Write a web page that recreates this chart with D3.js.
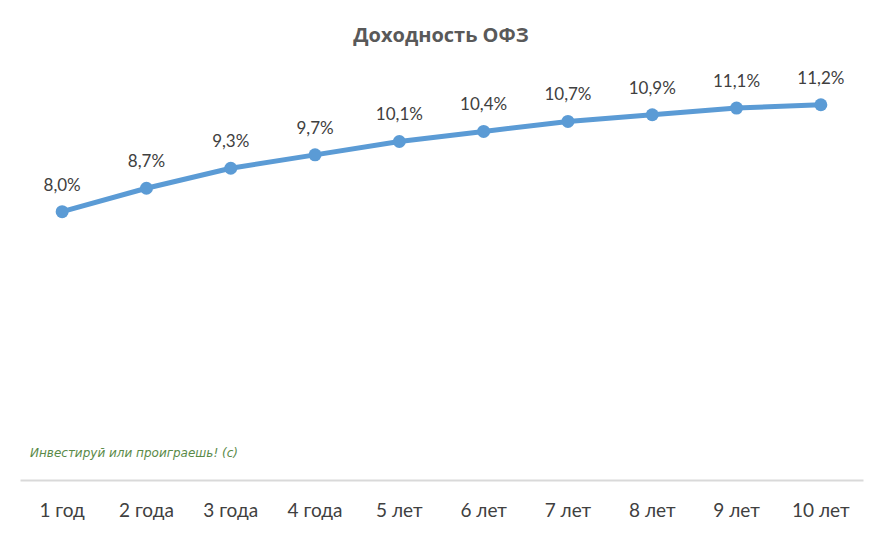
<!DOCTYPE html>
<html><head><meta charset="utf-8">
<script src="https://cdn.jsdelivr.net/npm/d3@7"></script>
<style>body{margin:0;background:#fff}svg{display:block}</style>
</head><body>
<svg id="c" width="874" height="539"></svg>
<script>
const categories = ["1 год","2 года","3 года","4 года","5 лет","6 лет","7 лет","8 лет","9 лет","10 лет"];
const values = [8.0, 8.7, 9.3, 9.7, 10.1, 10.4, 10.7, 10.9, 11.1, 11.2];
const valueLabels = ["8,0%","8,7%","9,3%","9,7%","10,1%","10,4%","10,7%","10,9%","11,1%","11,2%"];
const title = "Доходность ОФЗ";
const watermark = "Инвестируй или проиграешь! (с)";

const svg = d3.select("#c");
const W = 874, H = 539;
svg.append("rect").attr("width",W).attr("height",H).attr("fill","#fff");

const x = d3.scaleBand().domain(categories).range([20, 863]);
const y = d3.scaleLinear().domain([0, 12]).range([479, 78]);
const cx = d => x(d) + x.bandwidth()/2;

svg.append("text").attr("x", 441).attr("y", 42).attr("text-anchor","middle")
  .attr("font-family","Open Sans, sans-serif").attr("font-weight","bold")
  .attr("font-size", 20).attr("fill","#595959").text(title);

const axis = d3.axisBottom(x).tickSize(0).tickPadding(20);
const g = svg.append("g").attr("transform","translate(0,480)").call(axis);
g.select(".domain").attr("stroke","#d9d9d9").attr("stroke-width",2);
g.selectAll("text").attr("font-family","Lato, Open Sans, sans-serif").attr("font-size",19)
  .attr("fill","#404040").attr("dy","0.9em");

const line = d3.line().x((d,i)=>cx(categories[i])).y(d=>y(d));
svg.append("path").datum(values).attr("d", line).attr("fill","none")
  .attr("stroke","#5b9bd5").attr("stroke-width",5).attr("stroke-linejoin","round");
svg.selectAll("circle.pt").data(values).join("circle").attr("class","pt")
  .attr("cx",(d,i)=>cx(categories[i])).attr("cy",d=>y(d)).attr("r",6.5).attr("fill","#5b9bd5");

svg.selectAll("text.lbl").data(values).join("text").attr("class","lbl")
  .attr("x",(d,i)=>cx(categories[i])).attr("y",d=>y(d)-21)
  .attr("text-anchor","middle").attr("font-family","Lato, Open Sans, sans-serif")
  .attr("font-size",17).attr("fill","#404040").text((d,i)=>valueLabels[i]);

svg.append("text").attr("x",30).attr("y",457).attr("font-family","DejaVu Sans, sans-serif")
  .attr("font-style","italic").attr("font-size",12).attr("fill","#5a8a48").text(watermark);
</script>
</body></html>
